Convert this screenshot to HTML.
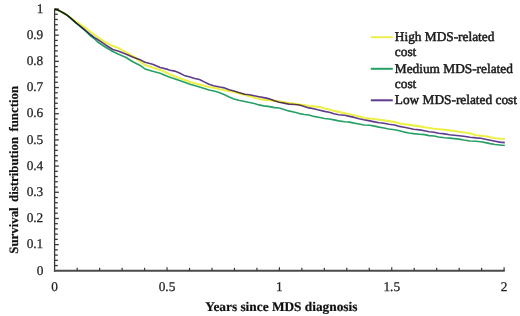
<!DOCTYPE html>
<html><head><meta charset="utf-8"><style>
html,body{margin:0;padding:0;background:#fff;}
body{width:520px;height:316px;overflow:hidden;}
svg{text-rendering:geometricPrecision;display:block;will-change:transform;filter:blur(0.45px);}
.t{font-family:"Liberation Serif",serif;font-size:13.33px;fill:#1a1a1a;stroke:#1a1a1a;stroke-width:0.5px;}
.n{stroke-width:0.25px;fill:#222;stroke:#222;}
.b{font-family:"Liberation Serif",serif;font-size:13.33px;font-weight:bold;fill:#111;stroke:#111;stroke-width:0.2px;}
</style></head><body>
<svg width="520" height="316" viewBox="0 0 520 316">
<rect width="520" height="316" fill="#fff"/>
<line x1="54.60" y1="8.60" x2="54.60" y2="271.80" stroke="#383838" stroke-width="1.3"/>
<line x1="53.90" y1="270.80" x2="504.70" y2="270.80" stroke="#4a4a4a" stroke-width="2"/>
<line x1="54.60" y1="265.56" x2="57.80" y2="265.56" stroke="#383838" stroke-width="1.3"/>
<line x1="54.60" y1="260.33" x2="57.80" y2="260.33" stroke="#383838" stroke-width="1.3"/>
<line x1="54.60" y1="255.09" x2="57.80" y2="255.09" stroke="#383838" stroke-width="1.3"/>
<line x1="54.60" y1="249.86" x2="57.80" y2="249.86" stroke="#383838" stroke-width="1.3"/>
<line x1="54.60" y1="244.62" x2="58.80" y2="244.62" stroke="#383838" stroke-width="1.3"/>
<line x1="54.60" y1="239.38" x2="57.80" y2="239.38" stroke="#383838" stroke-width="1.3"/>
<line x1="54.60" y1="234.15" x2="57.80" y2="234.15" stroke="#383838" stroke-width="1.3"/>
<line x1="54.60" y1="228.91" x2="57.80" y2="228.91" stroke="#383838" stroke-width="1.3"/>
<line x1="54.60" y1="223.68" x2="57.80" y2="223.68" stroke="#383838" stroke-width="1.3"/>
<line x1="54.60" y1="218.44" x2="58.80" y2="218.44" stroke="#383838" stroke-width="1.3"/>
<line x1="54.60" y1="213.20" x2="57.80" y2="213.20" stroke="#383838" stroke-width="1.3"/>
<line x1="54.60" y1="207.97" x2="57.80" y2="207.97" stroke="#383838" stroke-width="1.3"/>
<line x1="54.60" y1="202.73" x2="57.80" y2="202.73" stroke="#383838" stroke-width="1.3"/>
<line x1="54.60" y1="197.50" x2="57.80" y2="197.50" stroke="#383838" stroke-width="1.3"/>
<line x1="54.60" y1="192.26" x2="58.80" y2="192.26" stroke="#383838" stroke-width="1.3"/>
<line x1="54.60" y1="187.02" x2="57.80" y2="187.02" stroke="#383838" stroke-width="1.3"/>
<line x1="54.60" y1="181.79" x2="57.80" y2="181.79" stroke="#383838" stroke-width="1.3"/>
<line x1="54.60" y1="176.55" x2="57.80" y2="176.55" stroke="#383838" stroke-width="1.3"/>
<line x1="54.60" y1="171.32" x2="57.80" y2="171.32" stroke="#383838" stroke-width="1.3"/>
<line x1="54.60" y1="166.08" x2="58.80" y2="166.08" stroke="#383838" stroke-width="1.3"/>
<line x1="54.60" y1="160.84" x2="57.80" y2="160.84" stroke="#383838" stroke-width="1.3"/>
<line x1="54.60" y1="155.61" x2="57.80" y2="155.61" stroke="#383838" stroke-width="1.3"/>
<line x1="54.60" y1="150.37" x2="57.80" y2="150.37" stroke="#383838" stroke-width="1.3"/>
<line x1="54.60" y1="145.14" x2="57.80" y2="145.14" stroke="#383838" stroke-width="1.3"/>
<line x1="54.60" y1="139.90" x2="58.80" y2="139.90" stroke="#383838" stroke-width="1.3"/>
<line x1="54.60" y1="134.66" x2="57.80" y2="134.66" stroke="#383838" stroke-width="1.3"/>
<line x1="54.60" y1="129.43" x2="57.80" y2="129.43" stroke="#383838" stroke-width="1.3"/>
<line x1="54.60" y1="124.19" x2="57.80" y2="124.19" stroke="#383838" stroke-width="1.3"/>
<line x1="54.60" y1="118.96" x2="57.80" y2="118.96" stroke="#383838" stroke-width="1.3"/>
<line x1="54.60" y1="113.72" x2="58.80" y2="113.72" stroke="#383838" stroke-width="1.3"/>
<line x1="54.60" y1="108.48" x2="57.80" y2="108.48" stroke="#383838" stroke-width="1.3"/>
<line x1="54.60" y1="103.25" x2="57.80" y2="103.25" stroke="#383838" stroke-width="1.3"/>
<line x1="54.60" y1="98.01" x2="57.80" y2="98.01" stroke="#383838" stroke-width="1.3"/>
<line x1="54.60" y1="92.78" x2="57.80" y2="92.78" stroke="#383838" stroke-width="1.3"/>
<line x1="54.60" y1="87.54" x2="58.80" y2="87.54" stroke="#383838" stroke-width="1.3"/>
<line x1="54.60" y1="82.30" x2="57.80" y2="82.30" stroke="#383838" stroke-width="1.3"/>
<line x1="54.60" y1="77.07" x2="57.80" y2="77.07" stroke="#383838" stroke-width="1.3"/>
<line x1="54.60" y1="71.83" x2="57.80" y2="71.83" stroke="#383838" stroke-width="1.3"/>
<line x1="54.60" y1="66.60" x2="57.80" y2="66.60" stroke="#383838" stroke-width="1.3"/>
<line x1="54.60" y1="61.36" x2="58.80" y2="61.36" stroke="#383838" stroke-width="1.3"/>
<line x1="54.60" y1="56.12" x2="57.80" y2="56.12" stroke="#383838" stroke-width="1.3"/>
<line x1="54.60" y1="50.89" x2="57.80" y2="50.89" stroke="#383838" stroke-width="1.3"/>
<line x1="54.60" y1="45.65" x2="57.80" y2="45.65" stroke="#383838" stroke-width="1.3"/>
<line x1="54.60" y1="40.42" x2="57.80" y2="40.42" stroke="#383838" stroke-width="1.3"/>
<line x1="54.60" y1="35.18" x2="58.80" y2="35.18" stroke="#383838" stroke-width="1.3"/>
<line x1="54.60" y1="29.94" x2="57.80" y2="29.94" stroke="#383838" stroke-width="1.3"/>
<line x1="54.60" y1="24.71" x2="57.80" y2="24.71" stroke="#383838" stroke-width="1.3"/>
<line x1="54.60" y1="19.47" x2="57.80" y2="19.47" stroke="#383838" stroke-width="1.3"/>
<line x1="54.60" y1="14.24" x2="57.80" y2="14.24" stroke="#383838" stroke-width="1.3"/>
<line x1="54.60" y1="9.00" x2="58.80" y2="9.00" stroke="#383838" stroke-width="1.3"/>
<line x1="77.17" y1="270.80" x2="77.17" y2="267.80" stroke="#383838" stroke-width="1.2"/>
<line x1="99.64" y1="270.80" x2="99.64" y2="267.80" stroke="#383838" stroke-width="1.2"/>
<line x1="122.11" y1="270.80" x2="122.11" y2="267.80" stroke="#383838" stroke-width="1.2"/>
<line x1="144.58" y1="270.80" x2="144.58" y2="267.80" stroke="#383838" stroke-width="1.2"/>
<line x1="167.05" y1="270.80" x2="167.05" y2="267.20" stroke="#383838" stroke-width="1.2"/>
<line x1="189.52" y1="270.80" x2="189.52" y2="267.80" stroke="#383838" stroke-width="1.2"/>
<line x1="211.99" y1="270.80" x2="211.99" y2="267.80" stroke="#383838" stroke-width="1.2"/>
<line x1="234.46" y1="270.80" x2="234.46" y2="267.80" stroke="#383838" stroke-width="1.2"/>
<line x1="256.93" y1="270.80" x2="256.93" y2="267.80" stroke="#383838" stroke-width="1.2"/>
<line x1="279.40" y1="270.80" x2="279.40" y2="267.20" stroke="#383838" stroke-width="1.2"/>
<line x1="301.87" y1="270.80" x2="301.87" y2="267.80" stroke="#383838" stroke-width="1.2"/>
<line x1="324.34" y1="270.80" x2="324.34" y2="267.80" stroke="#383838" stroke-width="1.2"/>
<line x1="346.81" y1="270.80" x2="346.81" y2="267.80" stroke="#383838" stroke-width="1.2"/>
<line x1="369.28" y1="270.80" x2="369.28" y2="267.80" stroke="#383838" stroke-width="1.2"/>
<line x1="391.75" y1="270.80" x2="391.75" y2="267.20" stroke="#383838" stroke-width="1.2"/>
<line x1="414.22" y1="270.80" x2="414.22" y2="267.80" stroke="#383838" stroke-width="1.2"/>
<line x1="436.69" y1="270.80" x2="436.69" y2="267.80" stroke="#383838" stroke-width="1.2"/>
<line x1="459.16" y1="270.80" x2="459.16" y2="267.80" stroke="#383838" stroke-width="1.2"/>
<line x1="481.63" y1="270.80" x2="481.63" y2="267.80" stroke="#383838" stroke-width="1.2"/>
<line x1="504.10" y1="270.80" x2="504.10" y2="267.20" stroke="#383838" stroke-width="1.2"/>
<text x="43.3" y="274.50" text-anchor="end" class="t n">0</text>
<text x="43.3" y="248.32" text-anchor="end" class="t n">0.1</text>
<text x="43.3" y="222.14" text-anchor="end" class="t n">0.2</text>
<text x="43.3" y="195.96" text-anchor="end" class="t n">0.3</text>
<text x="43.3" y="169.78" text-anchor="end" class="t n">0.4</text>
<text x="43.3" y="143.60" text-anchor="end" class="t n">0.5</text>
<text x="43.3" y="117.42" text-anchor="end" class="t n">0.6</text>
<text x="43.3" y="91.24" text-anchor="end" class="t n">0.7</text>
<text x="43.3" y="65.06" text-anchor="end" class="t n">0.8</text>
<text x="43.3" y="38.88" text-anchor="end" class="t n">0.9</text>
<text x="43.3" y="12.70" text-anchor="end" class="t n">1</text>
<text x="54.70" y="291.3" text-anchor="middle" class="t n">0</text>
<text x="167.05" y="291.3" text-anchor="middle" class="t n">0.5</text>
<text x="279.40" y="291.3" text-anchor="middle" class="t n">1</text>
<text x="391.75" y="291.3" text-anchor="middle" class="t n">1.5</text>
<text x="504.10" y="291.3" text-anchor="middle" class="t n">2</text>
<text x="281.35" y="311.2" text-anchor="middle" class="b">Years since MDS diagnosis</text>
<text transform="translate(18.0,169.8) rotate(-90)" x="0" y="0" text-anchor="middle" class="b" style="font-size:12.85px;word-spacing:2.2px">Survival distribution function</text>
<polyline points="55.0,9.5 57.0,9.8 60.0,11.1 63.5,13.0 67.0,15.1 70.0,17.4 73.0,19.5 75.5,21.3 80.2,24.3 85.0,27.7 90.0,31.5 97.6,37.1 105.2,42.3 112.8,46.1 118.0,47.8 125.6,52.1 133.2,56.3 140.8,61.6 145.0,65.1 152.6,67.5 160.2,69.9 167.8,73.2 170.0,74.4 174.7,76.3 179.5,78.2 184.2,79.7 190.0,82.0 194.7,83.2 199.5,84.5 209.0,87.0 215.0,88.0 220.0,89.3 224.5,90.2 234.0,92.0 245.0,94.9 254.2,97.6 262.0,99.6 270.0,100.2 275.0,101.0 279.2,101.4 284.0,102.3 288.7,103.1 295.0,103.8 299.5,104.5 304.2,105.0 309.0,106.0 313.7,106.4 320.0,107.1 324.5,108.5 329.2,109.5 334.0,110.9 338.7,111.9 345.0,113.3 355.0,115.5 365.0,118.1 374.5,119.0 384.0,120.4 395.0,122.1 399.5,123.5 409.0,124.9 420.0,126.4 424.5,127.3 434.0,128.8 445.0,129.7 449.5,130.4 459.0,131.8 470.0,133.2 476.0,135.3 485.5,136.3 495.0,138.3 504.8,139.0" fill="none" stroke="#eef04a" stroke-width="2.1" stroke-linejoin="round" style="mix-blend-mode:multiply"/>
<polyline points="55.0,9.5 57.0,9.8 60.0,11.1 63.5,13.0 67.0,15.1 70.0,17.6 73.0,20.3 75.5,22.6 80.2,26.5 85.0,30.5 90.0,35.5 94.5,38.8 97.6,42.0 105.2,47.0 112.8,51.5 118.0,53.9 125.6,57.2 133.2,62.0 140.8,65.8 145.0,68.9 152.6,71.3 160.2,73.2 167.8,76.5 170.0,77.3 179.5,80.6 190.0,84.2 199.5,87.0 209.0,90.0 215.0,91.3 219.7,92.7 224.5,94.8 229.2,97.0 234.0,98.9 238.7,100.3 244.7,101.5 249.5,102.5 254.2,103.5 259.0,104.9 263.7,105.9 269.7,106.6 274.5,107.6 279.2,108.0 284.0,109.5 288.7,110.9 294.7,112.3 299.5,113.6 304.2,114.5 309.0,115.0 313.7,116.4 319.7,117.5 324.5,118.5 329.2,119.0 334.0,119.9 338.7,120.9 344.7,121.8 349.5,122.1 354.2,123.1 359.0,124.0 363.7,125.0 369.7,125.2 374.5,126.1 379.2,127.1 384.0,128.0 388.7,129.0 394.7,129.7 399.5,130.7 404.2,132.1 409.0,133.0 413.7,133.6 419.7,134.2 424.5,134.6 429.2,135.6 434.0,136.0 438.7,137.0 444.7,137.8 449.5,138.1 454.2,138.6 459.0,139.1 463.7,140.0 470.0,141.0 476.0,141.2 480.7,141.7 485.5,142.6 490.2,143.6 495.0,144.5 499.7,145.0 504.8,145.5" fill="none" stroke="#26a064" stroke-width="1.6" stroke-linejoin="round" style="mix-blend-mode:multiply"/>
<polyline points="55.0,9.5 57.0,9.8 60.0,11.1 63.5,13.0 67.0,15.1 70.0,17.6 73.0,20.2 75.5,22.4 80.2,26.2 85.0,30.0 90.0,34.2 94.5,37.6 97.6,39.5 105.2,44.7 112.8,49.5 118.0,51.1 125.6,54.0 133.2,57.3 140.8,60.1 145.0,62.3 152.6,64.2 160.2,67.5 167.8,69.4 170.0,70.2 174.7,71.1 179.5,73.0 184.2,75.4 190.0,77.1 194.7,78.5 199.5,79.5 204.2,81.9 209.0,84.2 213.7,85.7 219.7,87.0 224.5,87.9 229.2,89.7 234.0,91.1 238.7,92.6 244.7,94.3 249.5,94.8 254.2,95.7 259.0,96.7 263.7,97.6 269.7,98.9 274.5,100.8 279.2,102.2 284.0,103.1 288.7,104.1 294.7,104.5 299.5,105.0 304.2,106.4 309.0,107.9 313.7,108.8 319.7,110.2 324.5,111.4 329.2,112.3 334.0,113.8 338.7,114.7 344.7,115.3 349.5,116.4 354.2,117.4 359.0,118.8 363.7,119.8 369.7,120.9 374.5,121.9 379.2,122.8 384.0,123.3 388.7,124.2 394.7,125.0 399.5,126.4 404.2,127.3 409.0,128.3 413.7,129.2 419.7,129.9 424.5,130.8 429.2,131.8 434.0,132.2 438.7,133.2 444.7,133.9 449.5,134.8 454.2,135.3 459.0,135.8 463.7,136.2 470.0,137.2 476.0,137.9 480.7,138.3 485.5,139.3 490.2,140.2 495.0,141.2 499.7,142.1 504.8,142.6" fill="none" stroke="#5f3c8c" stroke-width="1.6" stroke-linejoin="round" style="mix-blend-mode:multiply"/>
<line x1="370.8" y1="37.2" x2="392.8" y2="37.2" stroke="#eef04a" stroke-width="2"/>
<line x1="370.8" y1="68.8" x2="392.8" y2="68.8" stroke="#26a064" stroke-width="2"/>
<line x1="370.8" y1="100.3" x2="392.8" y2="100.3" stroke="#5f3c8c" stroke-width="2"/>
<text x="394.8" y="41.0" class="t">High MDS-related</text>
<text x="394.8" y="56.3" class="t">cost</text>
<text x="394.8" y="72.6" class="t">Medium MDS-related</text>
<text x="394.8" y="88.0" class="t">cost</text>
<text x="394.8" y="104.3" class="t">Low MDS-related cost</text>
</svg>
</body></html>
